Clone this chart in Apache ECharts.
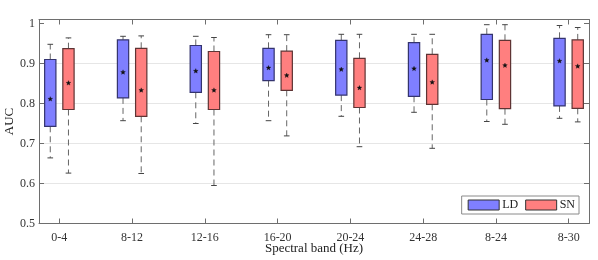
<!DOCTYPE html>
<html>
<head>
<meta charset="utf-8">
<script src="https://cdn.jsdelivr.net/npm/echarts@6/dist/echarts.min.js"></script>
<style>
html,body{margin:0;padding:0;background:#fff;}
#chart{width:598px;height:260px;}
</style>
</head>
<body>
<div id="chart"></div>
<script>
const categories = ['0-4','8-12','12-16','16-20','20-24','24-28','8-24','8-30'];
const yTicks = [0.5, 0.6, 0.7, 0.8, 0.9, 1.0];

const ldLow  = [0.664, 0.757, 0.750, 0.757, 0.768, 0.778, 0.755, 0.763];
const ldQ1   = [0.743, 0.814, 0.828, 0.857, 0.821, 0.818, 0.810, 0.794];
const ldQ3   = [0.910, 0.959, 0.945, 0.938, 0.958, 0.952, 0.973, 0.963];
const ldHigh = [0.948, 0.968, 0.968, 0.972, 0.973, 0.973, 0.997, 0.995];
const ldMean = [0.811, 0.878, 0.881, 0.889, 0.885, 0.887, 0.908, 0.906];

const snLow  = [0.626, 0.625, 0.595, 0.719, 0.692, 0.688, 0.748, 0.754];
const snQ1   = [0.785, 0.768, 0.785, 0.833, 0.790, 0.798, 0.787, 0.788];
const snQ3   = [0.937, 0.938, 0.930, 0.931, 0.913, 0.923, 0.958, 0.959];
const snHigh = [0.964, 0.969, 0.965, 0.972, 0.973, 0.973, 0.997, 0.990];
const snMean = [0.851, 0.833, 0.833, 0.870, 0.839, 0.853, 0.895, 0.893];

function build(low, q1, q3, high, mean) {
  return categories.map((c, i) => [i + 1, low[i], q1[i], q3[i], high[i], mean[i]]);
}

const FONT = 'Liberation Serif';
const BOX_W = 0.155;
const OFFSET = 0.125;

function starPoints(cx, cy, R, r) {
  const pts = [];
  for (let k = 0; k < 10; k++) {
    const rad = k % 2 === 0 ? R : r;
    const a = -Math.PI / 2 + k * Math.PI / 5;
    pts.push([cx + rad * Math.cos(a), cy + rad * Math.sin(a)]);
  }
  return pts;
}

function makeRender(offset, fill, edge) {
  return function (params, api) {
    const x = api.value(0) + offset;
    const pLow = api.coord([x, api.value(1)]);
    const pQ1 = api.coord([x, api.value(2)]);
    const pQ3 = api.coord([x, api.value(3)]);
    const pHigh = api.coord([x, api.value(4)]);
    const pMean = api.coord([x, api.value(5)]);
    const w = api.size([BOX_W, 0])[0];
    const capW = w * 0.5;
    const cx = pQ1[0];
    const dash = { stroke: '#666', lineWidth: 1, lineDash: [6, 4] };
    const cap = { stroke: '#444', lineWidth: 1 };
    return {
      type: 'group',
      children: [
        { type: 'line', shape: { x1: cx, y1: pQ3[1], x2: cx, y2: pHigh[1] }, style: dash },
        { type: 'line', shape: { x1: cx, y1: pQ1[1], x2: cx, y2: pLow[1] }, style: dash },
        { type: 'line', shape: { x1: cx - capW / 2, y1: pHigh[1], x2: cx + capW / 2, y2: pHigh[1] }, style: cap },
        { type: 'line', shape: { x1: cx - capW / 2, y1: pLow[1], x2: cx + capW / 2, y2: pLow[1] }, style: cap },
        { type: 'rect', shape: { x: cx - w / 2, y: pQ3[1], width: w, height: pQ1[1] - pQ3[1] },
          style: { fill: fill, stroke: edge, lineWidth: 1.2 } },
        { type: 'polygon', shape: { points: starPoints(pMean[0], pMean[1], 2.5, 1.1) },
          style: { fill: '#111', stroke: '#111', lineWidth: 0.3 } }
      ]
    };
  };
}

const chart = echarts.init(document.getElementById('chart'), null, { renderer: 'canvas' });

const axisLineStyle = { color: '#6e6e6e', width: 1 };

const option = {
  animation: false,
  backgroundColor: '#fff',
  grid: { left: 39, right: 9, top: 19.5, bottom: 36.5, containLabel: false, outerBoundsMode: 'none' },
  legend: {
    data: ['LD', 'SN'],
    right: 19, bottom: 46,
    orient: 'horizontal',
    icon: 'rect',
    itemWidth: 31, itemHeight: 10, itemGap: 7,
    padding: [3, 4, 3, 6],
    borderColor: '#8a8a8a', borderWidth: 1,
    backgroundColor: '#fff',
    textStyle: { fontFamily: FONT, fontSize: 12, color: '#222', padding: [0, 0, 0, -2] },
    itemStyle: { borderColor: '#333', borderWidth: 1 }
  },
  xAxis: [
    {
      type: 'value', position: 'bottom', min: 0.72, max: 8.28,
      name: 'Spectral band (Hz)', nameLocation: 'middle', nameGap: 19, nameMoveOverlap: false,
      nameTextStyle: { fontFamily: FONT, fontSize: 13, color: '#222' },
      axisLine: { show: true, lineStyle: axisLineStyle },
      axisTick: { show: true, inside: true, length: 5, customValues: [1,2,3,4,5,6,7,8], lineStyle: axisLineStyle },
      axisLabel: { customValues: [1,2,3,4,5,6,7,8], margin: 8, fontFamily: FONT, fontSize: 12, color: '#333',
        formatter: v => categories[Math.round(v) - 1] || '' },
      splitLine: { show: false }
    },
    {
      type: 'value', position: 'top', min: 0.72, max: 8.28,
      axisLine: { show: true, lineStyle: axisLineStyle },
      axisTick: { show: true, inside: true, length: 5, customValues: [1,2,3,4,5,6,7,8], lineStyle: axisLineStyle },
      axisLabel: { show: false },
      splitLine: { show: false }
    }
  ],
  yAxis: [
    {
      type: 'value', position: 'left', min: 0.5, max: 1.01, interval: 0.1,
      name: 'AUC', nameLocation: 'middle', nameGap: 23, nameMoveOverlap: false,
      nameTextStyle: { fontFamily: FONT, fontSize: 13, color: '#222' },
      axisLine: { show: true, lineStyle: axisLineStyle },
      axisTick: { show: true, inside: true, length: 5, customValues: yTicks, lineStyle: axisLineStyle },
      axisLabel: { customValues: yTicks, margin: 4, fontFamily: FONT, fontSize: 12, color: '#333',
        formatter: v => String(Math.round(v * 10) / 10) },
      splitLine: { show: true, showMinLine: false, showMaxLine: false, lineStyle: { color: '#e6e6e6', width: 1 } }
    },
    {
      type: 'value', position: 'right', min: 0.5, max: 1.01, interval: 0.1,
      axisLine: { show: true, lineStyle: axisLineStyle },
      axisTick: { show: true, inside: true, length: 5, customValues: yTicks, lineStyle: axisLineStyle },
      axisLabel: { show: false },
      splitLine: { show: false }
    }
  ],
  series: [
    {
      name: 'LD', type: 'custom', xAxisIndex: 0, yAxisIndex: 0,
      itemStyle: { color: '#7f7fff' },
      encode: { x: 0, y: [1, 2, 3, 4, 5] },
      renderItem: makeRender(-OFFSET, '#7f7fff', '#34346e'),
      data: build(ldLow, ldQ1, ldQ3, ldHigh, ldMean)
    },
    {
      name: 'SN', type: 'custom', xAxisIndex: 0, yAxisIndex: 0,
      itemStyle: { color: '#ff7f7f' },
      encode: { x: 0, y: [1, 2, 3, 4, 5] },
      renderItem: makeRender(OFFSET, '#ff7f7f', '#5e3434'),
      data: build(snLow, snQ1, snQ3, snHigh, snMean)
    }
  ]
};
chart.setOption(option);
</script>
</body>
</html>
